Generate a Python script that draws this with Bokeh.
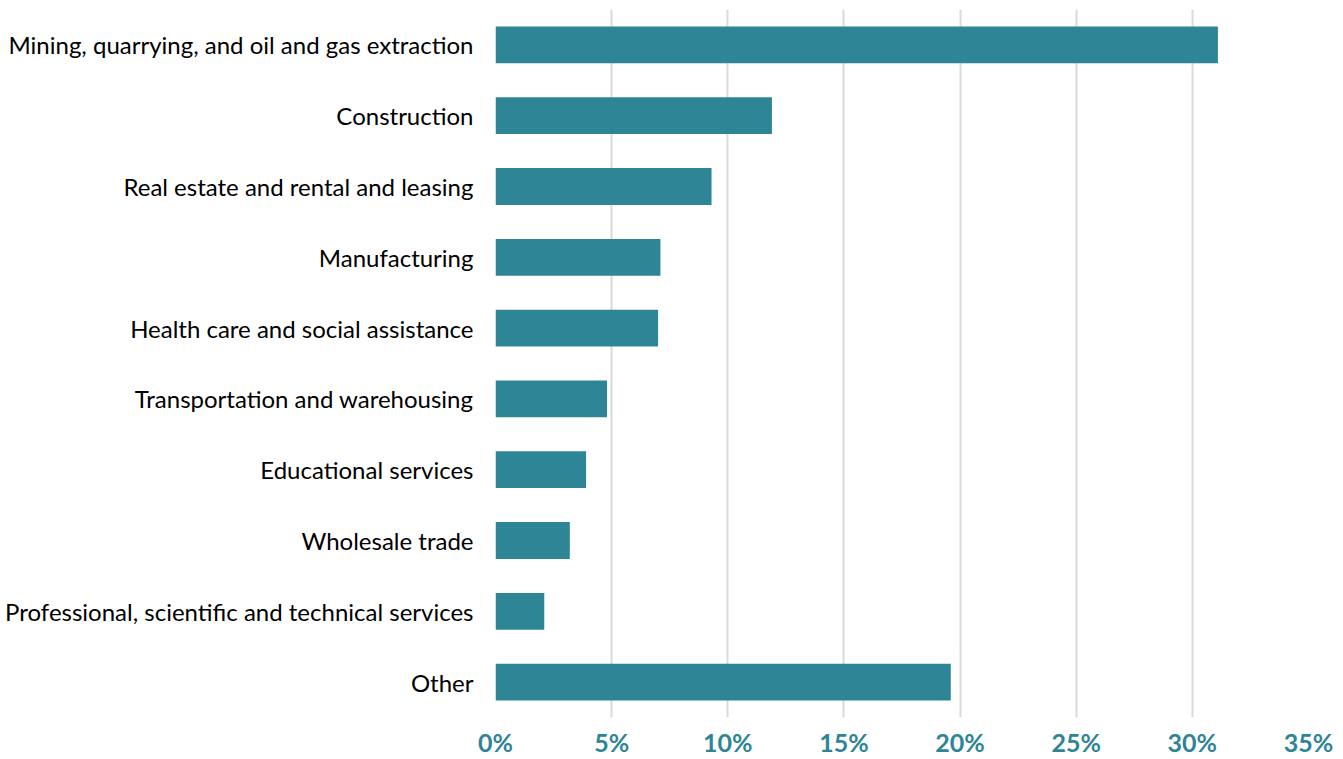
from bokeh.plotting import figure
from bokeh.models import FactorRange, Range1d, FixedTicker, PrintfTickFormatter
from bokeh.embed import file_html
from bokeh.resources import INLINE

categories = [
    "Mining, quarrying, and oil and gas extraction",
    "Construction",
    "Real estate and rental and leasing",
    "Manufacturing",
    "Health care and social assistance",
    "Transportation and warehousing",
    "Educational services",
    "Wholesale trade",
    "Professional, scientific and technical services",
    "Other",
]
shares = [31.1, 11.9, 9.3, 7.1, 7.0, 4.8, 3.9, 3.2, 2.1, 19.6]
x_ticks = [0, 5, 10, 15, 20, 25, 30, 35]

BAR = "#2E8595"

p = figure(
    width=1343, height=759,
    y_range=FactorRange(factors=list(reversed(categories))),
    x_range=Range1d(0, 35),
    output_backend="svg", toolbar_location=None,
    min_border_left=495, min_border_right=35, min_border_top=9, min_border_bottom=40,
)
p.hbar(y=categories, right=shares, left=0, height=0.52, color=BAR, line_color=None)

p.outline_line_color = None
p.background_fill_color = "white"
p.border_fill_color = "white"

p.ygrid.grid_line_color = None
p.xgrid.grid_line_color = "#d9d9d9"
p.xgrid.grid_line_width = 2
p.xaxis.ticker = FixedTicker(ticks=x_ticks)
p.xaxis.formatter = PrintfTickFormatter(format="%d%%")

for ax in (p.xaxis, p.yaxis):
    ax.axis_line_color = None
    ax.major_tick_line_color = None
    ax.minor_tick_line_color = None
    ax.major_tick_out = 0
    ax.major_tick_in = 0

p.xaxis.major_label_text_font = "Lato"
p.xaxis.major_label_text_font_style = "bold"
p.xaxis.major_label_text_font_size = "25px"
p.xaxis.major_label_text_color = BAR
p.xaxis.major_label_standoff = 9

p.yaxis.major_label_text_font = "Lato"
p.yaxis.major_label_text_font_size = "24px"
p.yaxis.major_label_text_color = "#000000"
p.yaxis.major_label_standoff = 22

open("out.html", "w").write(file_html(p, INLINE))
